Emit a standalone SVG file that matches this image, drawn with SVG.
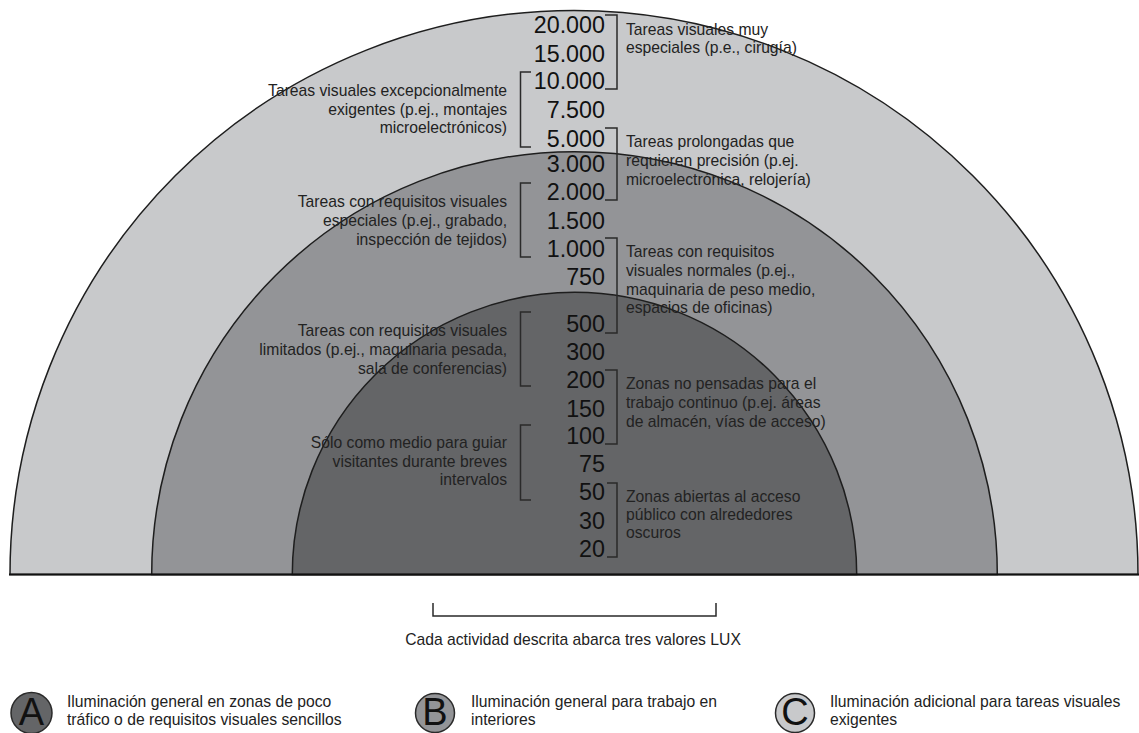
<svg xmlns="http://www.w3.org/2000/svg" width="1139" height="733" viewBox="0 0 1139 733">
  <style>
    .band { stroke: #1e1e1e; stroke-width: 1.5; }
    .c { fill: #c8c9cb; }
    .b { fill: #939497; }
    .a { fill: #646567; }
    .lux { font-family: "Liberation Sans", Arial, sans-serif; font-size: 23.3px; fill: #111; text-anchor: end; }
    .lbl { font-family: "Liberation Sans", Arial, sans-serif; font-size: 15.7px; fill: #222; }
    .end { text-anchor: end; }
    .brk { fill: none; stroke: #2a2a2a; stroke-width: 1.5; }
    .key { stroke: #2a2a2a; stroke-width: 1.5; }
    .keyL { font-family: "Liberation Sans", Arial, sans-serif; font-size: 38px; fill: #111; text-anchor: middle; }
  </style>

  <rect width="1139" height="733" fill="#ffffff"/>

  <!-- Concentric half-discs: C (outer), B (middle), A (inner) -->
  <g id="zone-c"><path class="band c" d="M10,574.5 A564,564 0 0 1 1138,574.5 Z"/></g>
  <g id="zone-b"><path class="band b" d="M151.7,574.5 A422.8,422.8 0 0 1 997.3,574.5 Z"/></g>
  <g id="zone-a"><path class="band a" d="M292.3,574.5 A282.2,282.2 0 0 1 856.7,574.5 Z"/></g>
  <line x1="9" y1="574.5" x2="1139" y2="574.5" stroke="#111" stroke-width="1.8"/>

  <!-- Lux scale -->
  <g id="scale">
    <text class="lux" x="605" y="33">20.000</text>
    <text class="lux" x="605" y="62">15.000</text>
    <text class="lux" x="605" y="89">10.000</text>
    <text class="lux" x="605" y="118">7.500</text>
    <text class="lux" x="605" y="147">5.000</text>
    <text class="lux" x="605" y="172">3.000</text>
    <text class="lux" x="605" y="200">2.000</text>
    <text class="lux" x="605" y="229">1.500</text>
    <text class="lux" x="605" y="257">1.000</text>
    <text class="lux" x="605" y="285">750</text>
    <text class="lux" x="605" y="332">500</text>
    <text class="lux" x="605" y="360">300</text>
    <text class="lux" x="605" y="388">200</text>
    <text class="lux" x="605" y="417">150</text>
    <text class="lux" x="605" y="444">100</text>
    <text class="lux" x="605" y="472">75</text>
    <text class="lux" x="605" y="500">50</text>
    <text class="lux" x="605" y="529">30</text>
    <text class="lux" x="605" y="557">20</text>
  </g>

  <!-- Range brackets -->
  <g id="connectors">
    <path class="brk" d="M605,15 H617 V89 H605"/>
    <path class="brk" d="M605,128 H617 V200 H605"/>
    <path class="brk" d="M605,238 H617 V333 H605"/>
    <path class="brk" d="M605,370 H617 V444 H605"/>
    <path class="brk" d="M607,483 H617 V557 H607"/>
    <path class="brk" d="M531,72 H520.5 V147 H531"/>
    <path class="brk" d="M531,183 H520.5 V257 H531"/>
    <path class="brk" d="M531,312 H520.5 V386 H531"/>
    <path class="brk" d="M531,425 H520.5 V500 H531"/>
    <path class="brk" d="M433,603 V616 H716 V603"/>
  </g>

  <!-- Activity descriptions, right column -->
  <g id="task-r1">
    <text class="lbl" x="626" y="35">Tareas visuales muy</text>
    <text class="lbl" x="626" y="53">especiales (p.e., cirugía)</text>
  </g>
  <g id="task-r2">
    <text class="lbl" x="626" y="147">Tareas prolongadas que</text>
    <text class="lbl" x="626" y="166">requieren precisión (p.ej.</text>
    <text class="lbl" x="626" y="185">microelectrónica, relojería)</text>
  </g>
  <g id="task-r3">
    <text class="lbl" x="626" y="257">Tareas con requisitos</text>
    <text class="lbl" x="626" y="276">visuales normales (p.ej.,</text>
    <text class="lbl" x="626" y="295">maquinaria de peso medio,</text>
    <text class="lbl" x="626" y="313">espacios de oficinas)</text>
  </g>
  <g id="task-r4">
    <text class="lbl" x="626" y="389">Zonas no pensadas para el</text>
    <text class="lbl" x="626" y="408">trabajo continuo (p.ej. áreas</text>
    <text class="lbl" x="626" y="427">de almacén, vías de acceso)</text>
  </g>
  <g id="task-r5">
    <text class="lbl" x="626" y="502">Zonas abiertas al acceso</text>
    <text class="lbl" x="626" y="520">público con alrededores</text>
    <text class="lbl" x="626" y="538">oscuros</text>
  </g>

  <!-- Activity descriptions, left column -->
  <g id="task-l1">
    <text class="lbl end" x="507" y="96">Tareas visuales excepcionalmente</text>
    <text class="lbl end" x="507" y="115">exigentes (p.ej., montajes</text>
    <text class="lbl end" x="507" y="133">microelectrónicos)</text>
  </g>
  <g id="task-l2">
    <text class="lbl end" x="507" y="207">Tareas con requisitos visuales</text>
    <text class="lbl end" x="507" y="226">especiales (p.ej., grabado,</text>
    <text class="lbl end" x="507" y="245">inspección de tejidos)</text>
  </g>
  <g id="task-l3">
    <text class="lbl end" x="507" y="336">Tareas con requisitos visuales</text>
    <text class="lbl end" x="507" y="355">limitados (p.ej., maquinaria pesada,</text>
    <text class="lbl end" x="507" y="374">sala de conferencias)</text>
  </g>
  <g id="task-l4">
    <text class="lbl end" x="507" y="448">Sólo como medio para guiar</text>
    <text class="lbl end" x="507" y="467">visitantes durante breves</text>
    <text class="lbl end" x="507" y="485">intervalos</text>
  </g>

  <g id="caption">
    <text class="lbl" x="573" y="645" text-anchor="middle">Cada actividad descrita abarca tres valores LUX</text>
  </g>

  <!-- Legend -->
  <g id="legend-a">
    <circle class="key a" cx="31.5" cy="713" r="20.5"/>
    <text class="keyL" x="31.5" y="725">A</text>
    <text class="lbl" x="67" y="707">Iluminación general en zonas de poco</text>
    <text class="lbl" x="67" y="725">tráfico o de requisitos visuales sencillos</text>
  </g>
  <g id="legend-b">
    <circle class="key b" cx="435" cy="713" r="19.5"/>
    <text class="keyL" x="435" y="725">B</text>
    <text class="lbl" x="471" y="707">Iluminación general para trabajo en</text>
    <text class="lbl" x="471" y="725">interiores</text>
  </g>
  <g id="legend-c">
    <circle class="key c" cx="795" cy="713" r="19.5"/>
    <text class="keyL" x="795" y="725">C</text>
    <text class="lbl" x="830" y="707">Iluminación adicional para tareas visuales</text>
    <text class="lbl" x="830" y="725">exigentes</text>
  </g>
</svg>
